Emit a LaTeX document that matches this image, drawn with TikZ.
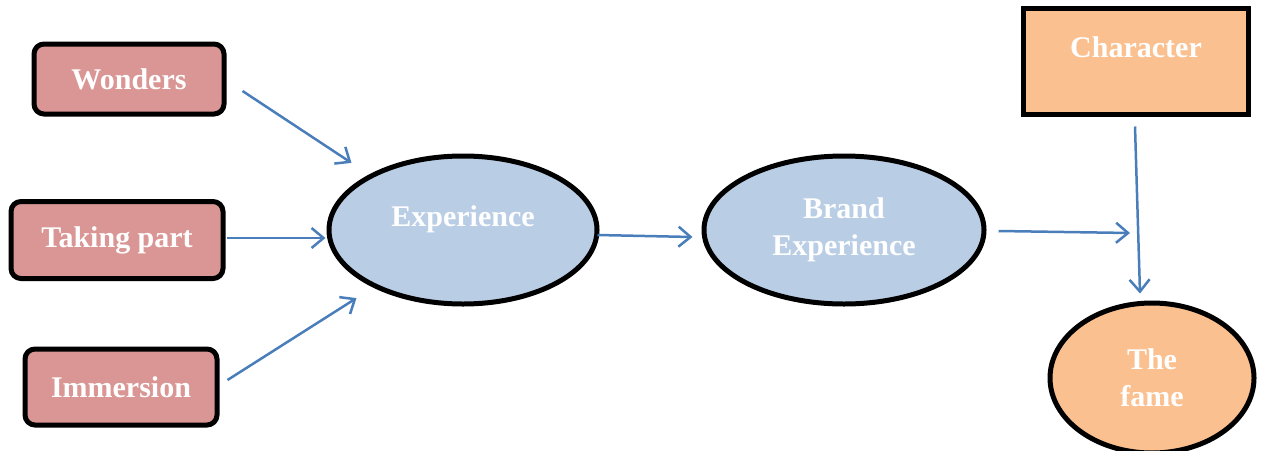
\documentclass[tikz,border=0pt]{standalone}
\usepackage{fontspec}
\setmainfont{Liberation Serif}
\usepackage{tikz}
\usetikzlibrary{arrows.meta}
\usetikzlibrary{calc}
\usetikzlibrary{positioning}
\usetikzlibrary{shapes.geometric}

\definecolor{pinkfill}{HTML}{D99694}
\definecolor{bluefill}{HTML}{B9CDE5}
\definecolor{orangefill}{HTML}{FAC090}
\definecolor{linkblue}{HTML}{4A7EBB}

\begin{document}
\begin{tikzpicture}[x=1pt,y=-1pt,
  every node/.style={font=\fontsize{30}{37}\selectfont\bfseries, text=white},
  factor/.style={draw=black, line width=5pt, fill=pinkfill, rounded corners=10pt, inner sep=0pt},
  oval/.style={draw=black, line width=5pt, fill=bluefill, ellipse, inner sep=0pt, align=center},
  raised/.style={text height=21pt, text depth=29pt},
  link/.style={draw=linkblue, line width=2.5pt, -{Straight Barb[length=12pt,width=20pt,line width=2.5pt]}}]
  \useasboundingbox (0,0) rectangle (1265,450);

  % inputs
  \node[factor, minimum width=190pt, minimum height=70pt] (wonders) at (129,79) {Wonders};
  \node[factor, minimum width=212pt, minimum height=77pt] (taking) at (117,240) {Taking part};
  \node[factor, minimum width=192pt, minimum height=76pt] (immersion) at (121,387) {Immersion};

  % experience
  \node[oval, raised, minimum width=268pt, minimum height=148pt] (exper) at (463,230) {Experience};
  \node[oval, minimum width=280pt, minimum height=148pt] (brand) at (844,230) {Brand\\Experience};

  % right side
  \node[draw=black, line width=5pt, fill=orangefill, raised, inner sep=0pt,
        minimum width=225pt, minimum height=106pt] (character) at (1136,61) {Character};
  \node[oval, fill=orangefill, minimum width=204pt, minimum height=150pt] (fame) at (1152,378) {The\\fame};
  \coordinate (meet) at (1130,233);

  % arrows
  \draw[link] ($(wonders.east)+(16,12)$) -- ($(exper.north west)+(-15,-13)$);
  \draw[link] ($(taking.east)+(1,-2)$) -- ($(exper.west)+(-1,8)$);
  \draw[link] ($(immersion.east)+(8,-7)$) -- ($(exper.south west)+(-10,14)$);
  \draw[link] ($(exper.east)+(-2,5)$) -- ($(brand.west)+(-9,7)$);
  \draw[link] ($(brand.east)+(12,1)$) -- (meet);
  \draw[link] ($(character.south)+(-1,10)$) -- ($(fame.north)+(-12,-7)$);

\end{tikzpicture}
\end{document}
